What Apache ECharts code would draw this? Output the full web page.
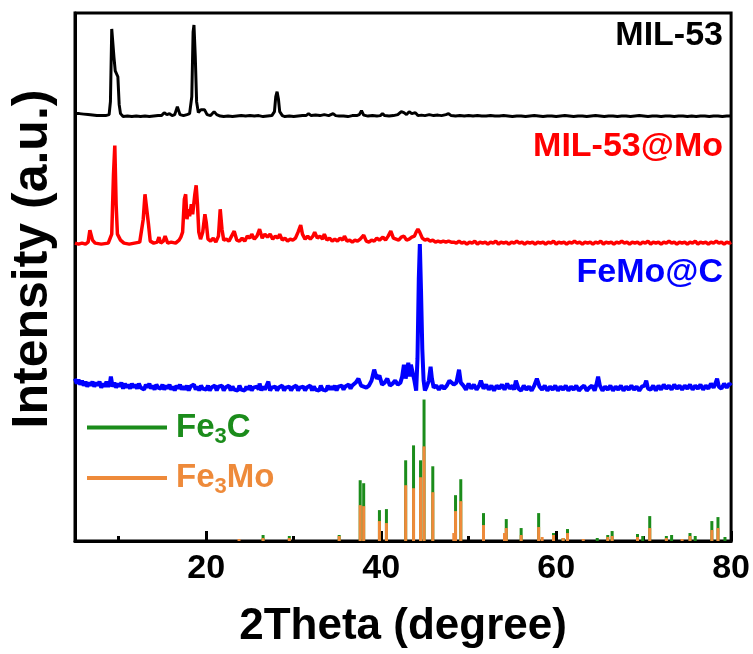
<!DOCTYPE html>
<html>
<head>
<meta charset="utf-8">
<script src="https://cdn.jsdelivr.net/npm/echarts@6/dist/echarts.min.js"></script>
<style>
html,body{margin:0;padding:0;background:#fff;}
#chart{width:753px;height:654px;}
</style>
</head>
<body>
<div id="chart"></div>
<script>
// ---- DATA ----
const xTickLabels = [20, 40, 60, 80];
const xMinorTicks = [10, 30, 50, 70];
const seriesNames = ['MIL-53', 'MIL-53@Mo', 'FeMo@C', 'Fe3C', 'Fe3Mo'];
// stacked offsets of the patterns (a.u.)
const offsetMIL53 = 426;
const offsetMIL53Mo = 298;
const offsetFeMoC = 153;

const mil53 = [[5.0,3],[5.5,3],[6.0,2.5],[6.5,2],[7.0,1.5],[7.5,1],[8.0,1],[8.5,1],[8.9,2],[9.05,15],[9.2,88],[9.3,90],[9.45,60],[9.6,46],[9.75,48],[9.9,40],[10.05,12],[10.2,3],[10.5,0],[11.0,0.5],[11.5,0],[12.0,0.5],[12.5,0],[13.0,0.5],[13.5,0],[14.0,0.5],[14.5,1],[14.9,1],[15.2,4],[15.5,2],[15.8,3],[16.1,1],[16.4,2],[16.7,10],[17.0,2],[17.4,1],[17.8,2],[18.1,3],[18.35,20],[18.5,85],[18.6,92],[18.75,60],[18.9,15],[19.1,4],[19.4,7],[19.6,5],[19.8,7],[20.1,2],[20.5,1],[20.9,5],[21.2,2],[21.6,0.5],[22.0,0],[22.5,0.5],[23.0,0],[23.5,0.5],[24.0,1],[24.5,0.5],[25.0,1],[25.5,0.5],[26.0,1],[26.5,0],[27.0,0.5],[27.5,1],[27.8,5],[27.95,20],[28.1,25],[28.25,18],[28.4,5],[28.7,1],[29.0,0],[29.5,0.5],[30.0,0],[30.5,0.5],[31.0,1],[31.4,1],[31.7,3],[32.0,1],[32.5,1.5],[33.0,1],[33.5,2],[34.0,1],[34.5,3],[34.8,1],[35.2,0.5],[35.7,0.5],[36.2,0],[36.7,1],[37.2,1],[37.5,2],[37.75,6],[38.0,1.5],[38.5,0.5],[39.0,1],[39.5,0.5],[39.9,1],[40.15,3],[40.4,1],[40.9,0.5],[41.4,1],[41.9,2],[42.3,5],[42.6,4],[42.9,2],[43.2,5],[43.5,3],[43.9,4],[44.2,1],[44.6,1.5],[45.0,1],[45.5,2],[46.0,1],[46.5,1.5],[46.9,1],[47.4,2],[47.7,3],[48.0,1],[48.5,0.5],[49.0,1],[49.5,0.5],[50,1],[50.5,0.5],[51,1],[51.5,0.5],[52,0.5],[52.5,1],[53,0.5],[53.5,0.5],[54,1],[54.5,0.5],[55,0],[55.5,0.5],[56,0.5],[56.5,0],[57,0.5],[57.5,1],[58,0.5],[58.5,0],[59,0.5],[59.5,0.5],[60,0],[60.5,0.5],[61,1],[61.5,0.5],[62,0],[62.5,0.5],[63,0.5],[63.5,0],[64,0.5],[64.5,1],[65,0.5],[65.5,0],[66,0.5],[66.5,0.5],[67,0],[67.5,0.5],[68,0.5],[68.5,0],[69,0.5],[69.5,1],[70,0.5],[70.5,0],[71,0.5],[71.5,0.5],[72,0],[72.5,0.5],[73,0.5],[73.5,0],[74,0.5],[74.5,0.5],[75,0],[75.5,0.5],[76,0],[76.5,0.5],[77,0.5],[77.5,0],[78,0.5],[78.5,0.5],[79,0],[79.5,0.5],[80,0.5]];

const mil53Mo = [[5.0,1],[5.4,0],[5.8,1],[6.2,0],[6.5,2],[6.7,14],[6.85,16],[7.0,4],[7.3,1],[8.0,0],[8.8,1],[9.2,10],[9.4,70],[9.55,99],[9.7,40],[9.85,10],[10.2,4],[10.6,1],[11.2,0],[11.8,1],[12.4,2],[12.8,25],[13.0,50],[13.2,48],[13.4,20],[13.6,3],[14.0,1],[14.4,2],[14.6,7],[14.8,1],[15.1,3],[15.3,8],[15.6,1],[16.0,2],[16.5,1],[16.9,4],[17.1,7],[17.3,12],[17.5,45],[17.65,50],[17.8,25],[17.95,35],[18.1,28],[18.3,40],[18.45,30],[18.7,50],[18.85,59],[19.0,40],[19.15,12],[19.35,5],[19.6,12],[19.85,30],[20.0,22],[20.2,5],[20.5,3],[20.8,6],[21.1,2],[21.4,8],[21.6,35],[21.8,15],[22.0,4],[22.3,5],[22.6,3],[22.9,8],[23.2,13],[23.5,4],[23.8,3],[24.1,6],[24.4,3],[24.7,8],[25.0,6],[25.2,10],[25.5,5],[25.8,8],[26.1,15],[26.4,6],[26.7,10],[27.0,7],[27.3,10],[27.6,5],[27.9,8],[28.2,6],[28.4,10],[28.7,4],[29.0,6],[29.3,3],[29.6,5],[29.9,4],[30.2,6],[30.5,12],[30.8,19],[31.0,10],[31.3,5],[31.6,8],[31.9,5],[32.2,8],[32.4,12],[32.7,6],[33.0,8],[33.3,5],[33.5,10],[33.8,4],[34.1,6],[34.4,3],[34.7,5],[35.0,3],[35.3,6],[35.6,4],[35.8,8],[36.1,3],[36.4,4],[36.7,2],[37.0,4],[37.3,3],[37.6,5],[38.0,9],[38.3,3],[38.6,2],[38.9,4],[39.2,3],[39.5,6],[39.8,4],[40.2,7],[40.5,4],[40.8,8],[41.1,13],[41.4,6],[41.7,5],[42.0,4],[42.3,7],[42.6,8],[42.9,4],[43.2,5],[43.5,7],[43.8,8],[44.0,12],[44.2,15],[44.4,12],[44.7,6],[45.0,4],[45.3,5],[45.6,3],[45.9,4],[46.2,2],[46.5,3],[46.8,2],[47.1,3],[47.4,2],[47.7,3],[48.0,2],[48.3,2],[48.6,1],[48.9,3],[49.2,1],[49.5,2],[49.8,0],[50.1,2],[50.4,1],[50.7,3],[51.0,0],[51.3,2],[51.6,1],[51.9,2],[52.2,0],[52.5,2],[52.8,1],[53.1,3],[53.4,0],[53.7,2],[54.0,1],[54.3,2],[54.6,0],[54.9,2],[55.2,1],[55.5,3],[55.8,1],[56.1,2],[56.4,0],[56.7,2],[57.0,1],[57.3,2],[57.6,0],[57.9,2],[58.2,1],[58.5,2],[58.8,0],[59.1,2],[59.4,1],[59.7,3],[60.0,0],[60.3,2],[60.6,1],[60.9,2],[61.2,0],[61.5,2],[61.8,1],[62.1,3],[62.4,1],[62.7,2],[63.0,0],[63.3,2],[63.6,1],[63.9,2],[64.2,0],[64.5,2],[64.8,1],[65.1,3],[65.4,0],[65.7,2],[66.0,1],[66.3,2],[66.6,0],[66.9,2],[67.2,1],[67.5,3],[67.8,1],[68.1,2],[68.4,0],[68.7,2],[69.0,1],[69.3,2],[69.6,0],[69.9,2],[70.2,1],[70.5,3],[70.8,0],[71.1,2],[71.4,1],[71.7,2],[72.0,0],[72.3,2],[72.6,1],[72.9,3],[73.2,1],[73.5,2],[73.8,0],[74.1,2],[74.4,1],[74.7,2],[75.0,0],[75.3,2],[75.6,1],[75.9,3],[76.2,0],[76.5,2],[76.8,1],[77.1,2],[77.4,0],[77.7,2],[78.0,1],[78.3,3],[78.6,1],[78.9,2],[79.2,0],[79.5,2],[79.8,1],[80.0,2]];

const femoC = [[5.0,10],[5.2,5],[5.4,9],[5.6,4],[5.8,8],[6.0,3],[6.2,7],[6.4,2],[6.6,6],[6.8,3],[7.0,7],[7.2,2],[7.4,6],[7.6,3],[7.8,7],[8.0,1],[8.2,5],[8.4,2],[8.6,7],[8.8,2],[9.0,6],[9.1,12],[9.3,2],[9.5,6],[9.7,1],[9.9,5],[10.1,2],[10.3,6],[10.5,0],[10.7,5],[10.9,1],[11.1,4],[11.3,0],[11.5,5],[11.7,1],[11.9,4],[12.1,0],[12.3,5],[12.5,1],[12.7,3],[12.9,-1],[13.1,4],[13.3,1],[13.5,5],[13.7,0],[13.9,3],[14.1,-1],[14.3,4],[14.5,1],[14.7,3],
[14.8,0],[15.0,4],[15.2,-1],[15.4,3],[15.6,0],[15.8,4],[16.0,-1],[16.2,2],[16.4,-2],[16.6,3],[16.8,0],[17.0,4],[17.2,-1],[17.4,2],[17.6,-1],[17.8,3],[18.0,-2],[18.2,2],[18.4,0],[18.6,4],[18.8,-1],[19.0,2],[19.2,-2],[19.4,3],[19.6,0],[19.8,2],[20.0,-1],[20.2,3],[20.4,-2],[20.6,1],[20.8,-1],[21.0,3],[21.2,-2],[21.4,2],[21.6,0],[21.8,3],[22.0,-2],[22.2,1],[22.4,-1],[22.6,3],[22.8,-2],[23.0,2],[23.2,-1],[23.4,1],[23.6,-2],[23.8,3],[24.0,-1],[24.2,1],[24.4,-2],[24.6,2],[24.8,-1],[25.0,3],[25.2,-2],[25.4,1],[25.6,-1],[25.8,2],[26.0,-1],[26.1,5],[26.3,-2],[26.5,2],[26.7,-1],[26.9,1],[27.1,7],[27.3,-2],[27.5,1],[27.7,-1],[27.9,2],[28.1,-2],[28.3,1],[28.5,-1],[28.7,3],[28.9,-2],[29.1,1],[29.3,-1],[29.5,2],[29.7,-2],[29.9,1],[30.1,-1],[30.3,3],[30.5,-2],[30.7,1],[30.9,-1],[31.1,2],[31.3,-2],[31.5,1],[31.7,-1],[31.9,3],[32.1,-2],[32.3,2],[32.5,-1],[32.7,1],[32.9,-2],[33.1,3],[33.3,-1],[33.5,1],[33.7,-2],[33.9,3],[34.1,-1],[34.3,2],[34.5,-1],[34.7,3],[34.9,-2],[35.1,2],[35.3,0],[35.5,3],[35.7,-1],[35.9,2],[36.1,0],[36.3,4],[36.5,0],[36.7,3],
[36.9,4],[37.1,6],[37.4,10],[37.7,3],[38.0,2],[38.3,1],[38.6,3],[38.9,8],[39.2,19],[39.5,10],[39.8,13],[40.1,4],[40.4,6],[40.7,10],[41.0,3],[41.3,5],[41.6,8],[41.9,4],[42.2,6],[42.4,12],[42.6,24],[42.8,10],[43.0,20],[43.1,26],[43.25,12],[43.4,24],[43.6,26],[43.8,8],[44.0,-2],[44.15,30],[44.3,110],[44.42,145],[44.55,100],[44.7,40],[44.85,8],[45.0,-2],[45.2,2],[45.45,8],[45.65,22],[45.8,10],[46.0,1],[46.3,3],[46.6,-1],[46.9,3],[47.2,0],[47.5,3],[47.8,8],[48.0,10],[48.3,4],[48.6,6],[48.9,19],[49.1,6],
[49.4,3],[49.7,-1],[50.0,5],[50.3,0],[50.6,4],[50.9,-1],[51.2,3],[51.4,8],[51.7,0],[52.0,4],[52.3,-1],[52.6,3],[52.9,-2],[53.2,3],[53.5,0],[53.8,4],[54.1,-1],[54.4,5],[54.7,0],[55.0,3],[55.2,-1],[55.4,8],[55.7,0],[56.0,-2],[56.3,3],[56.6,-1],[56.9,2],[57.2,-2],[57.5,3],[57.8,10],[58.1,2],[58.4,-1],[58.7,3],[59.0,-2],[59.3,2],[59.6,-1],[59.9,3],[60.2,-2],[60.5,2],[60.8,-1],[61.1,3],[61.4,-2],[61.7,2],[62.0,-1],[62.3,3],[62.6,-2],[62.9,1],[63.2,3],[63.5,-2],[63.8,1],[64.1,3],[64.4,-2],[64.6,4],[64.8,12],[65.0,3],[65.3,-2],[65.6,2],[65.9,-1],[66.2,3],[66.5,-2],[66.8,2],[67.1,-1],[67.4,3],[67.7,-2],[68.0,2],[68.3,-1],[68.6,3],[68.9,-1],[69.2,2],[69.5,-2],[69.8,2],[70.1,3],[70.3,8],[70.5,0],[70.8,-1],[71.1,3],[71.4,-2],[71.7,3],[72.0,-1],[72.3,4],[72.6,0],[72.9,3],[73.2,-1],[73.5,4],[73.8,0],[74.1,3],[74.4,-1],[74.7,3],[75.0,0],[75.3,4],[75.6,-1],[75.9,3],[76.2,0],[76.5,4],[76.8,-1],[77.1,3],[77.4,0],[77.7,5],[78.0,1],[78.2,5],[78.4,10],[78.6,2],[78.9,0],[79.2,5],[79.5,1],[79.8,5],[80.0,3]];

// reference stick patterns [2theta, intensity]
const fe3C = [[26.5,6],[29.5,5],[35.2,6],[37.6,61],[38.0,58],[39.8,31],[40.6,32],[42.8,81],[43.7,96],[44.5,81],[44.9,142],[45.9,75],[48.5,46],[49.1,62],[51.7,28],[54.3,22],[56.0,13],[58.0,28],[59.7,8],[60.8,3],[61.3,12],[64.7,3],[65.9,6],[66.4,10],[69.3,7],[69.9,5],[70.7,25],[72.6,5],[73.2,6],[75.3,8],[75.9,5],[77.8,20],[78.5,24],[79.3,4]];
const fe3Mo = [[23.75,2],[26.5,3],[29.5,3],[35.2,5],[37.6,36],[38.0,35],[39.8,20],[40.6,18],[42.8,56],[43.7,53],[44.5,64],[44.9,95],[45.9,49],[48.3,8],[48.5,30],[49.1,40],[51.7,16],[54.1,8],[54.3,13],[56.0,6],[58.0,14],[58.4,4],[59.7,6],[60.8,3],[61.3,8],[63.1,2],[65.9,4],[66.4,5],[69.3,4],[70.7,13],[72.6,3],[74.4,2],[75.3,5],[77.8,11],[78.5,13]];

// ---- CHART ----
const FONT = '"Liberation Sans", Arial, sans-serif';
const C_BLACK = '#000000', C_RED = '#ff0000', C_BLUE = '#0000ff', C_GREEN = '#1b8c1b', C_ORANGE = '#ee8a3a';
const shift = (arr, off) => arr.map(p => [p[0], p[1] + off]);

const chart = echarts.init(document.getElementById('chart'), null, {renderer: 'canvas'});
const option = {
  animation: false,
  backgroundColor: '#fff',
  grid: {left: 72, right: 21, top: 13, bottom: 111, show: true, borderColor: '#000', borderWidth: 3, backgroundColor: 'transparent'},
  xAxis: [{
    type: 'value', min: 5, max: 80,
    name: '2Theta (degree)', nameLocation: 'middle', nameGap: 64,
    nameTextStyle: {fontSize: 44, fontWeight: 'bold', color: '#000', fontFamily: FONT},
    axisLine: {show: true, lineStyle: {color: '#000', width: 3}},
    axisTick: {show: true, inside: true, length: 10, customValues: xTickLabels, lineStyle: {color: '#000', width: 3}},
    axisLabel: {show: true, customValues: xTickLabels, fontSize: 34, fontWeight: 'bold', color: '#000', fontFamily: FONT, margin: 11},
    splitLine: {show: false}
  }, {
    type: 'value', min: 5, max: 80, position: 'bottom',
    axisLine: {show: false},
    axisTick: {show: true, inside: true, length: 5, customValues: xMinorTicks, lineStyle: {color: '#000', width: 3}},
    axisLabel: {show: false},
    splitLine: {show: false}
  }],
  yAxis: {
    type: 'value', min: 0, max: 530,
    name: 'Intensity (a.u.)', nameLocation: 'middle', nameGap: 17,
    nameTextStyle: {fontSize: 50, fontWeight: 'bold', color: '#000', fontFamily: FONT, padding: [0, 0, 0, 36]},
    axisLine: {show: true, lineStyle: {color: '#000', width: 3}},
    axisTick: {show: false}, axisLabel: {show: false}, splitLine: {show: false}
  },
  legend: {
    orient: 'vertical', left: 87, top: 411, padding: 0, itemWidth: 80, itemHeight: 4, itemGap: 14,
    icon: 'rect',
    formatter: n => n.replace('3', '{s|3}'),
    textStyle: {fontSize: 33, fontWeight: 'bold', fontFamily: FONT, padding: [0, 0, 0, 4],
      rich: {s: {fontSize: 22, fontWeight: 'bold', fontFamily: FONT, padding: [18, 0, 0, 0]}}},
    data: [
      {name: 'Fe3C', textStyle: {color: C_GREEN}},
      {name: 'Fe3Mo', textStyle: {color: C_ORANGE}}
    ]
  },
  series: [
    {name: seriesNames[0], type: 'line', data: shift(mil53, offsetMIL53), showSymbol: false, lineStyle: {color: C_BLACK, width: 3}, itemStyle: {color: C_BLACK}},
    {name: seriesNames[1], type: 'line', data: shift(mil53Mo, offsetMIL53Mo), showSymbol: false, lineStyle: {color: C_RED, width: 3.5}, itemStyle: {color: C_RED}},
    {name: seriesNames[2], type: 'line', data: shift(femoC, offsetFeMoC), showSymbol: false, lineStyle: {color: C_BLUE, width: 4}, itemStyle: {color: C_BLUE}},
    {name: seriesNames[3], type: 'bar', data: fe3C, barWidth: 3, barGap: '-100%', itemStyle: {color: C_GREEN}},
    {name: seriesNames[4], type: 'bar', data: fe3Mo, barWidth: 3, barGap: '-100%', itemStyle: {color: C_ORANGE}}
  ],
  graphic: [
    {type: 'text', style: {x: 723, y: 36, text: seriesNames[0], align: 'right', verticalAlign: 'middle', font: 'bold 34px ' + FONT, fill: C_BLACK}},
    {type: 'text', style: {x: 723, y: 147, text: seriesNames[1], align: 'right', verticalAlign: 'middle', font: 'bold 34px ' + FONT, fill: C_RED}},
    {type: 'text', style: {x: 723, y: 273, text: seriesNames[2], align: 'right', verticalAlign: 'middle', font: 'bold 34px ' + FONT, fill: C_BLUE}}
  ]
};
chart.setOption(option);
</script>
</body>
</html>
